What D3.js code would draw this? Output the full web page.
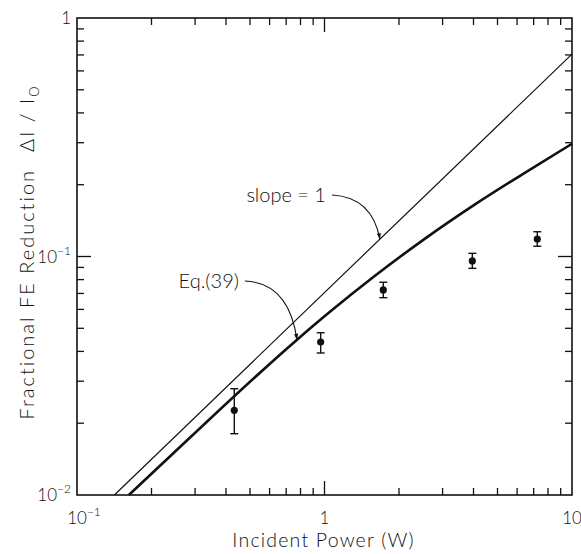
<!DOCTYPE html>
<html>
<head>
<meta charset="utf-8">
<script src="https://cdn.jsdelivr.net/npm/d3@7/dist/d3.min.js"></script>
<style>
  body { margin: 0; background: #fff; }
  svg { display: block; }
  text { font-family: Lato, "Open Sans", "DejaVu Sans", sans-serif; font-weight: 300; fill: #111; }
</style>
</head>
<body>
<svg id="chart" width="581" height="554"></svg>
<script>
// slope = 1 reference line
const slopeLine = [[0.1416, 0.01], [10, 0.706]]

// Eq.(39) curve
const eq39 = [
  [0.162, 0.01], [0.2606, 0.0159], [0.7727, 0.0447], [1.052, 0.0586], [1.585, 0.0824],
  [2.59, 0.1203], [4.0, 0.1638], [6.3, 0.2211], [10, 0.297]
]

// measured points with error bars
const powers = [0.432, 0.965, 1.728, 3.956, 7.24]
const reduction = [0.02265, 0.0438, 0.0724, 0.0958, 0.1184]
const errLow = [0.01807, 0.0394, 0.0672, 0.0892, 0.1104]
const errHigh = [0.0279, 0.0479, 0.078, 0.1031, 0.127]

const xMajor = [0.1, 1, 10]
const xMajorLabels = [["10", "−1"], ["1", ""], ["10", ""]]
const yMajor = [0.01, 0.1, 1]
const yMajorLabels = [["10", "−2"], ["10", "−1"], ["1", ""]]

const annotations = [
  { label: "slope = 1", tx: 1.014, ty: 0.1693, tip: 1.675, on: "slope" },
  { label: "Eq.(39)", tx: 0.451, ty: 0.0738, tip: 0.774, on: "eq39" }
]

const margin = { top: 18, right: 9, bottom: 59, left: 77 }
const width = 581 - margin.left - margin.right
const height = 554 - margin.top - margin.bottom

const svg = d3.select("#chart")
const g = svg.append("g").attr("transform", `translate(${margin.left},${margin.top})`)

const x = d3.scaleLog().domain([0.1, 10]).range([0, width])
const y = d3.scaleLog().domain([0.01, 1]).range([height, 0])

// minor ticks 2..9 in every decade
const minor = dom => {
  const out = []
  for (let d = dom[0]; d < dom[1]; d *= 10)
    for (let k = 2; k <= 9; k++) out.push(d * k)
  return out
}

function drawTicks(scale, values, len, side) {
  values.forEach(v => {
    const p = scale(v)
    if (side === "bottom") g.append("line").attr("x1", p).attr("x2", p).attr("y1", height).attr("y2", height - len)
    if (side === "top") g.append("line").attr("x1", p).attr("x2", p).attr("y1", 0).attr("y2", len)
    if (side === "left") g.append("line").attr("y1", p).attr("y2", p).attr("x1", 0).attr("x2", len)
    if (side === "right") g.append("line").attr("y1", p).attr("y2", p).attr("x1", width).attr("x2", width - len)
  })
}
;["bottom", "top"].forEach(s => {
  drawTicks(x, minor(x.domain()), 7, s)
  drawTicks(x, xMajor.slice(1, -1), 14, s)
})
;["left", "right"].forEach(s => {
  drawTicks(y, minor(y.domain()), 7, s)
  drawTicks(y, yMajor.slice(1, -1), 14, s)
})
g.selectAll("line").attr("stroke", "#111").attr("stroke-width", 1.3)

// frame
g.append("rect")
  .attr("width", width).attr("height", height)
  .attr("fill", "none").attr("stroke", "#111").attr("stroke-width", 1.6)

// tick labels
xMajor.forEach((v, i) => {
  const t = g.append("text")
    .attr("x", x(v)).attr("y", height + 29)
    .attr("text-anchor", "middle").style("font-size", "17px")
  t.append("tspan").text(xMajorLabels[i][0])
  if (xMajorLabels[i][1]) {
    t.append("tspan").attr("dy", -8).style("font-size", "12px").text(xMajorLabels[i][1])
    t.attr("x", x(v) + 7)
  }
})
yMajor.forEach((v, i) => {
  const t = g.append("text")
    .attr("x", -6).attr("y", y(v) + 6)
    .attr("text-anchor", "end").style("font-size", "17px")
  t.append("tspan").text(yMajorLabels[i][0])
  if (yMajorLabels[i][1])
    t.append("tspan").attr("dy", -8).style("font-size", "12px").text(yMajorLabels[i][1])
})

// axis titles
svg.append("text")
  .attr("x", margin.left + width / 2 - 1).attr("y", 547)
  .attr("text-anchor", "middle").style("font-size", "19.5px").style("letter-spacing", "1.2px")
  .text("Incident Power (W)")

const yt = svg.append("text")
  .attr("transform", `translate(34,${margin.top + 234}) rotate(-90)`)
  .attr("text-anchor", "middle").style("font-size", "20px").style("letter-spacing", "2px")
yt.append("tspan").text("Fractional FE Reduction\u2003ΔI / I")
yt.append("tspan").attr("dy", 5).style("font-size", "13px").text("O")

// lines
const line = d3.line().x(d => x(d[0])).y(d => y(d[1]))
g.append("path").datum(slopeLine)
  .attr("d", line).attr("fill", "none").attr("stroke", "#111").attr("stroke-width", 1.2)
g.append("path").datum(eq39)
  .attr("d", line.curve(d3.curveMonotoneX)).attr("fill", "none").attr("stroke", "#111").attr("stroke-width", 2.6)

// error bars
const pts = powers.map((p, i) => ({ p, v: reduction[i], lo: errLow[i], hi: errHigh[i] }))
const eb = g.selectAll("g.pt").data(pts).enter().append("g").attr("class", "pt")
eb.append("line")
  .attr("x1", d => x(d.p)).attr("x2", d => x(d.p))
  .attr("y1", d => y(d.lo)).attr("y2", d => y(d.hi))
eb.append("line")
  .attr("x1", d => x(d.p) - 4).attr("x2", d => x(d.p) + 4)
  .attr("y1", d => y(d.lo)).attr("y2", d => y(d.lo))
eb.append("line")
  .attr("x1", d => x(d.p) - 4).attr("x2", d => x(d.p) + 4)
  .attr("y1", d => y(d.hi)).attr("y2", d => y(d.hi))
eb.selectAll("line").attr("stroke", "#111").attr("stroke-width", 1.4)
eb.append("circle")
  .attr("cx", d => x(d.p)).attr("cy", d => y(d.v)).attr("r", 3.6).attr("fill", "#111")

// annotations with curved arrows
const eqAt = xv => {
  const i = d3.bisector(d => d[0]).left(eq39, xv)
  const a = eq39[i - 1], b = eq39[i]
  const t = (Math.log(xv) - Math.log(a[0])) / (Math.log(b[0]) - Math.log(a[0]))
  return Math.exp(Math.log(a[1]) + t * (Math.log(b[1]) - Math.log(a[1])))
}
const slopeAt = xv => slopeLine[1][1] / slopeLine[1][0] * xv

svg.append("defs").append("marker")
  .attr("id", "head").attr("viewBox", "0 0 10 10").attr("refX", 9).attr("refY", 5)
  .attr("markerWidth", 10).attr("markerHeight", 6).attr("orient", "auto")
  .append("path").attr("d", "M0,2 L10,5 L0,8 Z").attr("fill", "#111")

annotations.forEach(a => {
  const tx = x(a.tx), ty = y(a.ty)
  g.append("text").attr("x", tx).attr("y", ty)
    .attr("text-anchor", "end").style("font-size", "20px").text(a.label)
  const sx = tx + 6, sy = ty - 7
  const ex = x(a.tip), ey = y(a.on === "slope" ? slopeAt(a.tip) : eqAt(a.tip))
  g.append("path")
    .attr("d", `M${sx},${sy} Q${ex - 8},${sy + 2} ${ex},${ey}`)
    .attr("fill", "none").attr("stroke", "#111").attr("stroke-width", 1.1)
    .attr("marker-end", "url(#head)")
})
</script>
</body>
</html>
